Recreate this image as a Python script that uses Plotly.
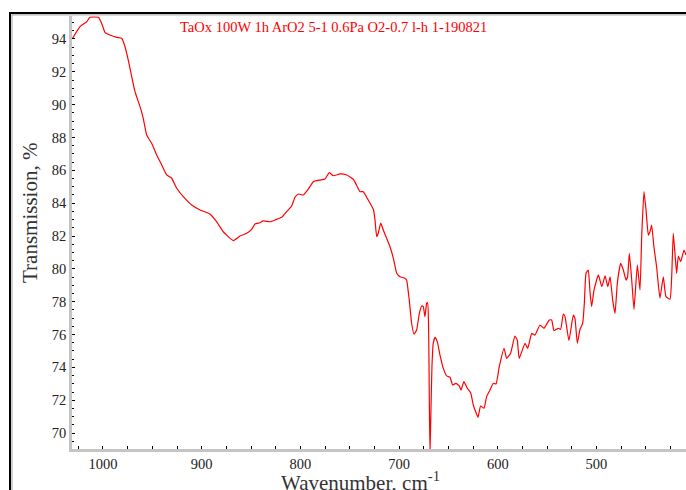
import plotly.graph_objects as go

wavenumber = [
    1030.8, 1023.3, 1016.5, 1013.2, 1004.7, 1001.3, 998.0, 992.9, 986.1, 981.1,
    977.7, 974.4, 970.9, 967.6, 962.5, 959.2, 955.7, 950.7, 945.6, 940.5,
    935.5, 930.4, 925.3, 918.6, 910.1, 901.7, 891.7, 884.9, 878.1, 868.0,
    861.2, 854.4, 849.4, 846.0, 841.0, 837.6, 830.8, 825.7, 818.9, 813.9,
    808.8, 805.5, 802.1, 797.0, 792.0, 786.9, 780.1, 775.1, 770.7, 766.7,
    759.9, 753.1, 746.4, 742.3, 739.6, 736.3, 731.2, 726.1, 724.4, 722.7,
    721.1, 718.6, 716.0, 712.6, 709.2, 705.8, 702.4, 699.1, 694.1, 692.4,
    689.7, 687.3, 684.9, 682.2, 679.5, 677.1, 675.5, 673.8, 672.1, 671.1,
    670.1, 669.4, 668.7, 667.7, 666.7, 665.4, 663.6, 661.3, 658.6, 655.2,
    651.8, 648.4, 645.7, 642.4, 639.0, 637.3, 634.3, 630.9, 627.5, 624.8,
    622.4, 620.1, 617.4, 614.0, 611.3, 607.9, 604.5, 601.8, 598.5, 593.7,
    591.0, 587.0, 582.7, 580.3, 578.3, 572.4, 569.7, 565.6, 562.4,
    557.3, 553.2, 547.8, 545.4, 543.1, 538.7, 536.3, 533.6, 531.9, 527.9,
    523.5, 521.8, 519.4, 516.7, 514.0, 512.3, 510.6, 508.3, 506.6, 504.9,
    502.5, 498.1, 494.6, 491.3, 488.5, 486.2, 483.6, 481.2, 478.9, 475.5,
    472.8, 470.1, 468.5, 466.7, 464.3, 462.0, 458.6, 455.9, 454.2, 451.9,
    449.8, 447.5, 445.8, 444.1, 441.8, 439.1, 435.7, 432.3, 429.6, 425.5,
    423.8, 422.2, 420.5, 418.8, 417.1, 414.7, 411.3, 409.3,
]
transmission = [
    94.04, 94.75, 95.05, 95.32, 95.32, 94.95, 94.40, 94.24, 94.10, 94.04,
    93.53, 92.72, 91.70, 90.79, 89.88, 89.17, 88.15, 87.65, 86.94, 86.33,
    85.72, 85.52, 84.91, 84.40, 83.89, 83.59, 83.34, 82.87, 82.26, 81.72,
    82.00, 82.17, 82.41, 82.73, 82.81, 82.92, 82.87, 82.98, 83.14, 83.49,
    83.83, 84.36, 84.56, 84.50, 84.85, 85.31, 85.41, 85.47, 85.86, 85.67,
    85.78, 85.72, 85.46, 85.00, 84.70, 84.70, 84.19, 83.63, 82.98, 81.96,
    82.17, 82.78, 82.37, 81.86, 81.35, 80.64, 79.73, 79.52, 79.43, 79.32,
    78.10, 76.69, 76.03, 76.28, 77.29, 77.74, 77.70, 77.09, 77.90, 77.94,
    76.48, 72.22, 68.80, 71.40, 74.04, 75.46, 75.83, 75.57, 74.76, 73.94,
    73.48, 73.40, 72.93, 73.03, 72.87, 72.62, 73.13, 72.73, 72.46, 71.71,
    71.30, 70.96, 71.65, 71.51, 72.22, 72.62, 73.03, 72.99, 74.04, 75.16,
    74.55, 74.86, 75.91, 75.67, 74.55, 75.47, 75.16, 76.07, 75.97,
    76.58, 76.38, 76.89, 76.89, 76.24, 76.38, 76.32, 77.25, 77.09, 75.63,
    77.19, 76.99, 75.47, 76.32, 76.68, 77.90, 79.73, 79.93, 78.61, 77.70,
    78.71, 79.63, 78.92, 79.57, 78.92, 79.52, 78.10, 77.29, 79.12, 80.34,
    79.93, 79.32, 79.52, 80.95, 79.32, 77.53, 80.24, 78.71, 81.96, 84.70,
    83.59, 82.06, 82.26, 82.67, 81.35, 80.13, 78.21, 79.52, 78.31, 78.15,
    79.52, 82.17, 80.95, 79.73, 80.78, 80.44, 81.15, 80.84,
]

x_tick_vals = [1000, 900, 800, 700, 600, 500]
x_tick_text = ["1000", "900", "800", "700", "600", "500"]
y_tick_vals = [70, 72, 74, 76, 78, 80, 82, 84, 86, 88, 90, 92, 94]
y_tick_text = [str(v) for v in y_tick_vals]

title_text = "TaOx 100W 1h ArO2 5-1 0.6Pa O2-0.7 l-h 1-190821"
x_title = "Wavenumber, cm<sup>-1</sup>"
y_title = "Transmission, %"

W, H = 686, 490
L, R, T, B = 72, 0, 16, 41
PW, PH = W - L - R, H - T - B

def px(xp):
    return (xp - L) / PW

def py(yp):
    return (H - B - yp) / PH

SERIF = "Liberation Serif, Times New Roman, serif"

fig = go.Figure()
fig.add_trace(go.Scatter(
    x=wavenumber, y=transmission, mode="lines",
    line=dict(color="#ff0000", width=1.2, shape="spline", smoothing=0.4),
    showlegend=False,
))

axis_common = dict(
    showline=True, linecolor="#c4c4c4", linewidth=2.5, mirror=False,
    showgrid=False, zeroline=False,
    ticks="inside", ticklen=3, tickcolor="#000000", tickwidth=1,
    tickfont=dict(family=SERIF, size=14.5, color="#222222"),
)

fig.update_xaxes(
    range=[1031.4, 409.3], tickvals=x_tick_vals, ticktext=x_tick_text,
    minor=dict(dtick=25, ticks="inside", ticklen=3, tickcolor="#000000"),
    **axis_common,
)
fig.update_yaxes(
    range=[69.03, 95.4], tickvals=y_tick_vals, ticktext=y_tick_text,
    minor=dict(dtick=0.5, ticks="inside", ticklen=2, tickcolor="#000000"),
    **axis_common,
)

annotations = [
    dict(text=title_text, xref="paper", yref="paper", x=px(178), y=py(27),
         xanchor="left", yanchor="middle", showarrow=False,
         font=dict(family=SERIF, size=14.5, color="#ff0000")),
    dict(text=y_title, xref="paper", yref="paper", x=px(30), y=py(213),
         xanchor="center", yanchor="middle", textangle=-90, showarrow=False,
         font=dict(family=SERIF, size=21, color="#333333")),
    dict(text=x_title, xref="paper", yref="paper", x=px(360), y=py(482),
         xanchor="center", yanchor="middle", showarrow=False,
         font=dict(family=SERIF, size=21, color="#333333")),
]

shapes = [
    dict(type="line", xref="paper", yref="paper", x0=px(10), x1=px(W), y0=py(13), y1=py(13),
         line=dict(color="#000000", width=2)),
    dict(type="line", xref="paper", yref="paper", x0=px(12), x1=px(W), y0=py(14.8), y1=py(14.8),
         line=dict(color="#b0b0b0", width=1.2)),
    dict(type="line", xref="paper", yref="paper", x0=px(10), x1=px(10), y0=py(12), y1=py(H),
         line=dict(color="#000000", width=2)),
    dict(type="line", xref="paper", yref="paper", x0=px(12), x1=px(12), y0=py(14), y1=py(H),
         line=dict(color="#b0b0b0", width=1.2)),
]

fig.update_layout(
    width=W, height=H, margin=dict(l=L, r=R, t=T, b=B, pad=0),
    paper_bgcolor="#ffffff", plot_bgcolor="#ffffff",
    annotations=annotations, shapes=shapes, showlegend=False,
)

fig.write_html("out.html")
